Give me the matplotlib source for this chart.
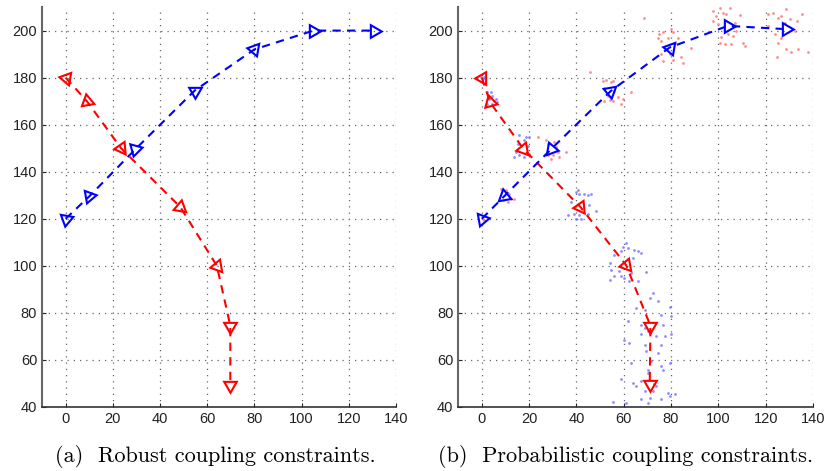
import matplotlib
matplotlib.use("Agg")
import matplotlib.pyplot as plt

# ---- data ----
# (a) robust
rob_red_x = [0, 9, 23.5, 48.6, 64.1, 69.8, 69.8]
rob_red_y = [180, 170, 150, 125, 100, 74.5, 49.5]
rob_blue_x = [0, 10, 29.5, 54.7, 80, 105, 130.7]
rob_blue_y = [120, 129.5, 149.5, 174.5, 192, 200, 200]

# (b) probabilistic
prob_red_x = [0, 3.5, 17.6, 41.7, 61, 71.3, 71]
prob_red_y = [180, 169.5, 149.7, 125, 100.3, 74.5, 49.8]
prob_blue_x = [0, 9.4, 29.2, 54.4, 79.4, 104, 128.8]
prob_blue_y = [120, 129.5, 149.5, 174.2, 192.8, 202, 200.6]

# red samples scattered around the blue trajectory
red_dots_x = [0.3, 1.0,
              8.1, 10.2, 11.6, 12.3, 13.7, 10.9, 8.8,
              23.6, 27.1, 27.8, 30.6, 31.4, 32.1, 30.0, 27.8, 29.2, 32.8, 35.6,
              45.9, 51.1, 52.5, 54.7, 55.4, 51.8, 56.1, 53.2, 54.0, 55.4, 57.5, 58.9, 59.6, 63.1, 51.8,
              75.1, 76.6, 74.4, 75.8, 78.7, 80.1, 80.8, 82.9, 81.5, 79.4, 80.8, 76.6, 75.8, 84.3, 85.0, 88.6, 68.5,
              97.7, 99.2, 100.6, 103.4, 104.8, 102.0, 109.0, 106.9, 107.6, 104.1, 101.3, 100.6, 102.7, 105.2,
              106.2, 110.5, 111.2, 97.7, 99.9,
              121.0, 123.2, 125.3, 126.7, 128.8, 128.1, 130.2, 133.1, 135.2, 123.9, 125.3, 124.6, 128.8, 130.9,
              133.8, 138.0, 121.0, 132.3, 126.7]
red_dots_y = [120.1, 119.3,
              132.8, 132.1, 130.6, 128.5, 128.5, 127.1, 127.8,
              154.7, 153.3, 151.8, 152.5, 150.4, 148.3, 146.9, 146.9, 145.5, 146.2, 148.3,
              182.6, 178.7, 179.0, 178.0, 178.7, 175.6, 174.4, 172.3, 170.5, 170.2, 171.6, 168.8, 170.9, 173.7, 170.2,
              198.4, 199.2, 197.0, 195.6, 197.0, 200.6, 199.2, 197.0, 194.9, 190.0, 187.4, 187.1, 190.0, 188.6, 186.4, 192.8, 205.2,
              208.3, 206.2, 209.5, 206.9, 209.7, 207.6, 206.6, 203.4, 199.9, 198.4, 197.3, 194.9, 194.2, 194.2,
              197.7, 194.9, 193.5, 204.1, 202.7,
              206.9, 207.6, 205.5, 206.2, 209.0, 203.4, 204.8, 204.1, 206.9, 198.4, 194.9, 188.6, 192.1, 190.7,
              192.1, 190.7, 202.0, 199.9, 197.0]

# blue samples scattered around the red trajectory
blue_dots_x = [-0.4, 0.3, 1.0,
               2.4, 3.8, 4.5, 3.1, 5.2, 6.6, 2.4, 4.5, 5.9,
               15.8, 18.6, 20.1, 17.9, 15.1, 19.4, 14.4, 15.8, 17.9, 20.1, 13.7,
               37.7, 39.8, 40.5, 41.2, 43.4, 44.8, 46.2, 36.3, 39.1, 41.2, 41.9, 39.8, 44.8, 48.3, 45.5,
               56.1, 58.9, 59.6, 61.0, 61.7, 64.5, 66.0, 67.4, 63.8, 54.0, 54.7, 54.0, 58.2, 58.9, 60.3, 62.4,
               63.1, 66.0, 69.5, 56.1,
               72.3, 70.9, 68.8, 65.3, 74.4, 75.8, 79.4, 80.1, 76.6, 67.4, 68.8, 67.4, 70.2, 73.7, 75.8, 77.3,
               80.1, 69.5, 61.7, 60.3, 62.4, 75.8, 76.6, 68.8, 74.4, 63.1,
               58.9, 63.8, 65.3, 67.4, 70.2, 70.2, 73.0, 73.7, 68.8, 72.3, 70.9, 67.4, 70.2, 75.8, 78.7, 79.4,
               81.5, 61.0, 55.4, 79.4, 71.6]
blue_dots_y = [180.1, 179.4, 180.4,
               173.7, 173.7, 172.3, 170.9, 170.2, 169.5, 168.8, 168.8, 170.9,
               155.4, 154.7, 154.7, 153.3, 151.8, 151.1, 148.3, 146.9, 146.2, 147.6, 146.2,
               127.1, 131.4, 132.1, 130.6, 130.6, 129.9, 130.6, 121.5, 122.2, 121.5, 120.1, 120.1, 122.2, 123.3, 125.7,
               104.7, 106.1, 108.2, 109.6, 107.5, 106.8, 106.1, 105.6, 103.2, 101.1, 98.3, 94.1, 97.6, 95.5, 94.8, 93.4,
               96.9, 93.4, 97.2, 95.5,
               88.4, 86.3, 81.4, 82.1, 84.9, 79.2, 82.5, 78.5, 75.0, 75.0, 73.6, 70.8, 72.2, 70.1, 66.5, 70.1,
               70.8, 63.7, 76.4, 68.6, 67.2, 57.3, 55.9, 66.5, 63.0, 58.8,
               51.7, 50.3, 48.9, 51.0, 55.9, 54.5, 49.6, 48.9, 46.8, 46.8, 43.9, 43.2, 41.8, 43.2, 46.0, 44.6,
               45.3, 41.8, 42.1, 58.8, 59.5]

# marker headings (degrees, ccw from "pointing up")
rob_red_ang = [80, 130, 95, 110, 100, 180, 180]
rob_blue_ang = [170, 160, 165, 180, 200, 270, 270]
prob_red_ang = [90, 135, 100, 95, 100, 180, 180]
prob_blue_ang = [160, 130, 140, 190, 200, 270, 270]

captions = ["(a)  Robust coupling constraints.",
            "(b)  Probabilistic coupling constraints."]

plt.rcParams['font.family'] = ['Liberation Sans', 'DejaVu Sans']


def draw_traj(ax, xs, ys, angs, col):
    ax.plot(xs, ys, '--', color=col, lw=1.5, dashes=(4, 3), zorder=3)
    for x, y, a in zip(xs, ys, angs):
        ax.plot(x, y, marker=(3, 0, a), ms=10.5, mfc='none', mec=col, mew=1.5, zorder=4)


def style_axes(ax):
    ax.set_xlim(-10, 140)
    ax.set_ylim(40, 210)
    ax.set_xticks(range(0, 141, 20))
    ax.set_yticks(range(40, 201, 20))
    ax.grid(True, ls=(0, (1, 4)), color='#666666', lw=0.9)
    for s in ['top', 'right']:
        ax.spines[s].set_visible(False)
    ax.spines['left'].set_color('#666666')
    ax.spines['left'].set_linewidth(1.5)
    ax.spines['bottom'].set_color('#333333')
    ax.spines['bottom'].set_linewidth(1.2)
    ax.tick_params(direction='in', length=3, labelsize=10.5, colors='#222222')


fig = plt.figure(figsize=(8.27, 4.71), dpi=100)
ax1 = fig.add_axes([0.0508, 0.136, 0.428, 0.849])
ax2 = fig.add_axes([0.554, 0.136, 0.429, 0.849])

style_axes(ax1)
draw_traj(ax1, rob_red_x, rob_red_y, rob_red_ang, 'red')
draw_traj(ax1, rob_blue_x, rob_blue_y, rob_blue_ang, 'blue')

style_axes(ax2)
ax2.scatter(red_dots_x, red_dots_y, s=4, color='#ff7070', alpha=0.8, lw=0, zorder=2)
ax2.scatter(blue_dots_x, blue_dots_y, s=4, color='#7070ff', alpha=0.8, lw=0, zorder=2)
draw_traj(ax2, prob_red_x, prob_red_y, prob_red_ang, 'red')
draw_traj(ax2, prob_blue_x, prob_blue_y, prob_blue_ang, 'blue')

fig.text(0.26, 0.03, captions[0], ha='center', va='center', fontsize=16, family='cmr10')
fig.text(0.757, 0.03, captions[1], ha='center', va='center', fontsize=16, family='cmr10')

fig.savefig('out.png', dpi=100)
